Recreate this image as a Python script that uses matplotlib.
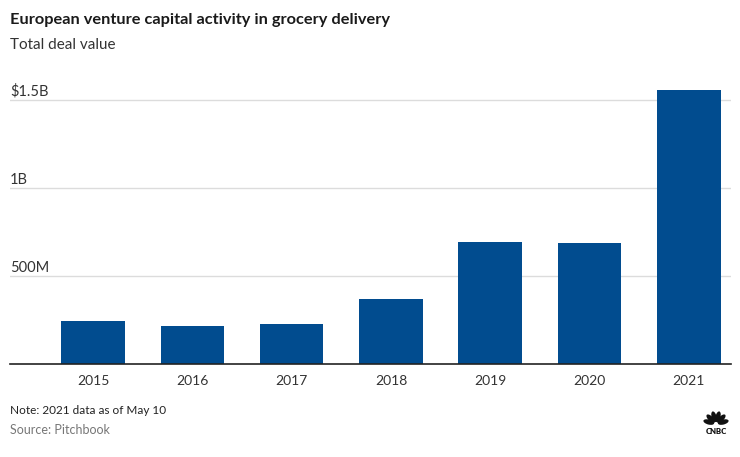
import numpy as np
import matplotlib
matplotlib.use("Agg")
import matplotlib.pyplot as plt
from matplotlib.patches import Ellipse
import matplotlib.transforms as mtransforms

# Dados (valor total de negócios, em milhões de USD)
anos = ["2015", "2016", "2017", "2018", "2019", "2020", "2021"]
valores = [246, 216, 227, 369, 693, 687, 1560]
ticks_y = [500, 1000, 1500]
rotulos_y = ["500M", "1B", "$1.5B"]

plt.rcParams['font.family'] = ['Lato', 'DejaVu Sans']

fig = plt.figure(figsize=(7.4, 4.57), dpi=100)
ax = fig.add_axes([0.0135, 0.2028, 0.9743, 0.6162])

x = np.arange(len(anos))
ax.bar(x, valores, width=0.64, color='#014c8f', zorder=3)

ax.set_xlim(-0.838, 6.425)
ax.set_ylim(0, 1600)

# grade horizontal
ax.set_yticks(ticks_y)
ax.set_yticklabels([])
ax.tick_params(axis='y', length=0)
ax.grid(axis='y', color='#dcdcdc', linewidth=1.0, zorder=0)

# rótulos do eixo y acima das linhas
trans = mtransforms.blended_transform_factory(ax.transAxes, ax.transData)
for v, r in zip(ticks_y, rotulos_y):
    ax.text(0.0, v + 10, r, transform=trans, ha='left', va='bottom',
            fontsize=10.5, color='#333333')

ax.set_xticks(x)
ax.set_xticklabels(anos, fontsize=10, color='#333333')
ax.tick_params(axis='x', length=0, pad=8)

for s in ['top', 'right', 'left']:
    ax.spines[s].set_visible(False)
ax.spines['bottom'].set_color('#222222')
ax.spines['bottom'].set_linewidth(1.2)
ax.spines['bottom'].set_zorder(4)

# títulos
fig.text(10 / 740, 1 - 20 / 457, "European venture capital activity in grocery delivery",
         fontsize=11.8, fontweight='bold', color='#1a1a1a', ha='left', va='center')
fig.text(10 / 740, 1 - 45 / 457, "Total deal value",
         fontsize=11, color='#333333', ha='left', va='center')

# notas
fig.text(10 / 740, 1 - 410 / 457, "Note: 2021 data as of May 10",
         fontsize=8.5, color='#222222', ha='left', va='center')
fig.text(10 / 740, 1 - 430 / 457, "Source: Pitchbook",
         fontsize=9, color='#777777', ha='left', va='center')

# logo CNBC (pavão simplificado), em pixels
pix = mtransforms.IdentityTransform()
cx, cy = 716, 457 - 424
for ang in [-75, -45, -15, 15, 45, 75]:
    a = np.deg2rad(ang)
    ex = cx + 7.5 * np.sin(a)
    ey = cy + 7.5 * np.cos(a)
    fig.patches.append(Ellipse((ex, ey), 5, 11, angle=-ang, transform=pix,
                               facecolor='#111111', edgecolor='none'))
fig.text(cx / 740, 1 - 431 / 457, "CNBC", fontsize=5.5, fontweight='heavy',
         color='#111111', ha='center', va='center')

fig.savefig("out.png", dpi=100)
